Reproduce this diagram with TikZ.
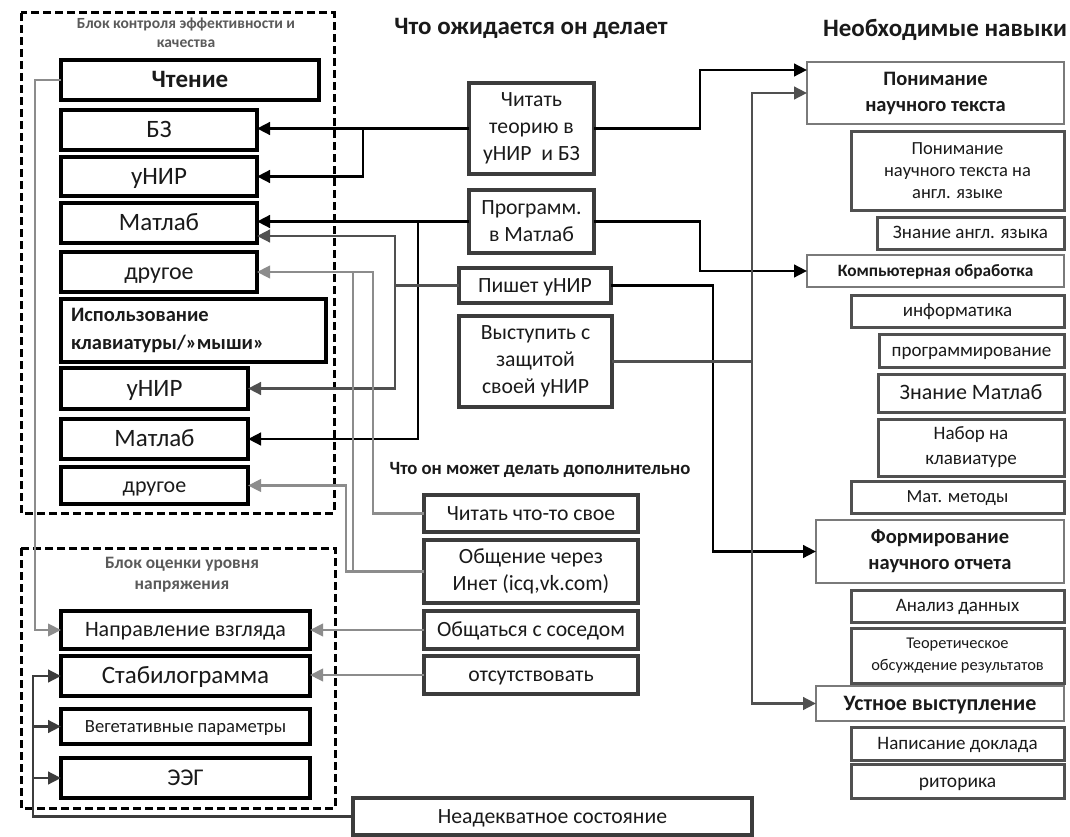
\documentclass[tikz,border=0pt]{standalone}
\usepackage{fontspec}
\setmainfont{Carlito}
\usetikzlibrary{arrows.meta}
\definecolor{txt}{HTML}{1A1A1A}
\definecolor{dk}{HTML}{3C3C3C}
\definecolor{dg}{HTML}{505050}
\definecolor{lg}{HTML}{8C8C8C}
\definecolor{hd}{HTML}{7A7A7A}
\definecolor{tg}{HTML}{5A5A5A}
\newcommand\fs[2]{\fontsize{#1}{#2}\selectfont}
\newcommand\mybox[7]{\node[#1, anchor=north west, minimum width={(#5-#3)*1pt}, minimum height={(#6-#4)*1pt}] (#2) at (#3,#4) {#7};}
\tikzset{
  one/.style={text height={0.66*#1pt}, text depth={0.03*#1pt}},
  lbox/.style={draw=black, line width=3.4pt, fill=white, text=txt, inner sep=1pt, align=center, outer sep=0pt},
  mbox/.style={draw=dk, line width=3.2pt, fill=white, text=txt, inner sep=1pt, align=center, outer sep=0pt, font=\fs{21.7}{27}},
  rhead/.style={draw=hd, line width=2.2pt, fill=white, text=txt, inner sep=1pt, align=center, outer sep=0pt, font=\bfseries\fs{20.5}{26}},
  rsub/.style={draw=dg, line width=3pt, fill=white, text=txt, inner sep=1pt, align=center, outer sep=0pt, font=\fs{19}{23}},
  dsh/.style={draw=black, line width=3pt, dash pattern=on 8pt off 4pt},
  blk/.style={draw=black, line width=2.8pt},
  dgr/.style={draw=dg, line width=2.8pt},
  lgr/.style={draw=lg, line width=2.3pt},
  dkl/.style={draw=dk, line width=2.8pt},
  myarr/.style={-{Triangle[length=13pt,width=12.5pt]}},
  ttl/.style={text=txt, font=\bfseries\fs{25}{30}},
  gttl/.style={text=tg, font=\bfseries\fs{15.5}{19}, align=center}
}
\begin{document}
\begin{tikzpicture}[x=1pt,y=-1pt]
\useasboundingbox[fill=white] (0,0) rectangle (1070,837);
% dashed frames
\draw[dsh] (21,13) rectangle (334,513);
\draw[dsh] (21,548) rectangle (335,808);
% titles
\node[gttl] (t1) at (186,33) {Блок контроля эффективности и\\качества};
\node[gttl, font=\bfseries\fs{17.4}{21}] (t2) at (182,575) {Блок оценки уровня\\напряжения};
\node[ttl] (t3) at (531,28) {Что ожидается он делает};
\node[ttl] (t4) at (945,30) {Необходимые навыки};
\node[ttl, font=\bfseries\fs{18.7}{22}] (t5) at (540,470) {Что он может делать дополнительно};
% left block
\mybox{lbox,one=25,font=\bfseries\fs{25}{29}}{chten}{61}{60}{319}{100}{Чтение}
\mybox{lbox,one=25,font=\fs{25}{29}}{bz}{61}{110}{257}{150}{БЗ}
\mybox{lbox,one=25,font=\fs{25}{29}}{unira}{61}{157}{257}{196}{уНИР}
\mybox{lbox,one=25,font=\fs{25}{29}}{mata}{61}{203}{257}{243}{Матлаб}
\mybox{lbox,one=24,font=\fs{24}{29}}{druga}{61}{252}{257}{292}{другое}
\node[lbox, font=\bfseries\fs{20.5}{28}, align=left, anchor=north west, text width=245pt, inner xsep=10pt, minimum height=63pt] (isp) at (61,299) {Использование\\клавиатуры/»мыши»};
\mybox{lbox,one=25,font=\fs{25}{29}}{unirb}{61}{368}{248}{409}{уНИР}
\mybox{lbox,one=25,font=\fs{25}{29}}{matb}{61}{419}{248}{459}{Матлаб}
\mybox{lbox,one=22,font=\fs{22}{26}}{drugb}{61}{467}{248}{504}{другое}
\mybox{lbox,one=22,font=\fs{22}{26}}{napr}{61}{611}{310}{649}{Направление взгляда}
\mybox{lbox,one=25,font=\fs{25}{29}}{stab}{61}{656}{310}{696}{Стабилограмма}
\mybox{lbox,one=18.6,font=\fs{18.6}{22}}{veg}{61}{709}{310}{744}{Вегетативные параметры}
\mybox{lbox,one=24,font=\fs{24}{28}}{eeg}{61}{758}{310}{798}{ЭЭГ}
% middle
\mybox{mbox}{chit}{469}{83}{594}{174}{Читать\\теорию в\\уНИР\ \ и БЗ}
\mybox{mbox}{prog}{469}{190}{594}{253}{Программ.\\в Матлаб}
\mybox{mbox,one=21.7}{pish}{459}{268}{611}{303}{Пишет уНИР}
\mybox{mbox}{vyst}{459}{316}{612}{407}{Выступить с\\защитой\\своей уНИР}
\mybox{mbox,one=21.7}{chsv}{424}{495}{638}{532}{Читать что-то свое}
\mybox{mbox}{obsh}{424}{540}{638}{603}{Общение через\\Инет (icq,vk.com)}
\mybox{mbox,one=21.7}{sos}{424}{611}{638}{649}{Общаться с соседом}
\mybox{mbox,one=21.7}{ots}{424}{656}{638}{694}{отсутствовать}
\mybox{mbox,one=21.7}{nead}{353}{798}{752}{835}{Неадекватное состояние}
% right
\mybox{rhead}{pon}{807}{62}{1064}{124}{Понимание\\научного текста}
\mybox{rsub,font=\fs{18.5}{22}}{ponen}{851}{132}{1064}{210}{Понимание\\научного текста на\\англ. языке}
\mybox{rsub,one=19}{zn}{877}{217}{1064}{249}{Знание англ. языка}
\mybox{rhead,one=17.3,font=\bfseries\fs{17.3}{21}}{komp}{807}{255}{1064}{287}{Компьютерная обработка}
\mybox{rsub,one=19}{inf}{851}{295}{1064}{327}{информатика}
\mybox{rsub,one=19}{progr}{879}{334}{1064}{367}{программирование}
\mybox{rsub,one=22,font=\fs{22}{26}}{znm}{878}{374}{1064}{412}{Знание Матлаб}
\mybox{rsub,font=\fs{19}{25}}{nab}{878}{419}{1064}{476}{Набор на\\клавиатуре}
\mybox{rsub,one=18.5,font=\fs{18.5}{22}}{matm}{851}{481}{1064}{513}{Мат. методы}
\mybox{rhead}{form}{816}{520}{1064}{583}{Формирование\\научного отчета}
\mybox{rsub,one=19}{anal}{851}{590}{1064}{622}{Анализ данных}
\mybox{rsub,font=\fs{16.4}{22}}{teor}{851}{628}{1064}{683}{Теоретическое\\обсуждение результатов}
\mybox{rhead,one=22,font=\bfseries\fs{22}{26}}{ustn}{816}{686}{1064}{721}{Устное выступление}
\mybox{rsub,one=19}{nap}{851}{727}{1064}{760}{Написание доклада}
\mybox{rsub,one=19.5,font=\fs{19.5}{23}}{rit}{851}{764}{1064}{798}{риторика}
% junction x positions
\coordinate (xa) at (363,0);
\coordinate (xb) at (418,0);
\coordinate (xc) at (395,0);
\coordinate (xd) at (700,0);
\coordinate (xe) at (713,0);
\coordinate (xf) at (752,0);
\coordinate (xg) at (373,0);
\coordinate (xh) at (346,0);
\coordinate (xi) at (353,0);
\coordinate (xj) at (35,0);
\coordinate (xk) at (33,0);
% connectors
\draw[blk,myarr] (chit.west) -- (chit.west -| bz.east);
\draw[blk,myarr] (chit.west -| xa) |- (unira.east);
\draw[blk,myarr] (chit.east) -- (chit.east -| xd) |- ([yshift=23pt]pon.west);
\draw[blk,myarr] (prog.west) -- (prog.west -| mata.east);
\draw[blk,myarr] (prog.west -| xb) |- (matb.east);
\draw[blk,myarr] (prog.east) -- (prog.east -| xd) |- (komp.west);
\draw[dgr,myarr] (pish.west) -- (pish.west -| xc) |- ([yshift=-13pt]mata.east);
\draw[dgr,myarr] (pish.west -| xc) |- (unirb.east);
\draw[blk,myarr] (pish.east) -- (pish.east -| xe) |- (form.west);
\draw[dgr] (vyst.east) -- (vyst.east -| xf);
\draw[dgr,myarr] (vyst.east -| xf) |- (pon.west);
\draw[dgr,myarr] (vyst.east -| xf) |- (ustn.west);
\draw[lgr,myarr] (chsv.west) -- (chsv.west -| xg) |- (druga.east);
\draw[lgr,myarr] (obsh.west) -- (obsh.west -| xh) |- (drugb.east);
\draw[lgr] (obsh.west -| xi) -- (druga.east -| xi);
\draw[lgr,myarr] (sos.west) -- (sos.west -| napr.east);
\draw[lgr,myarr] (ots.west) -- (ots.west -| stab.east);
\draw[lgr,myarr] (chten.west) -- (chten.west -| xj) |- (napr.west);
\draw[dkl,myarr] (nead.west) -- (nead.west -| xk) |- (stab.west);
\draw[dkl,myarr] (nead.west -| xk) |- (veg.west);
\draw[dkl,myarr] (nead.west -| xk) |- (eeg.west);
\end{tikzpicture}
\end{document}
